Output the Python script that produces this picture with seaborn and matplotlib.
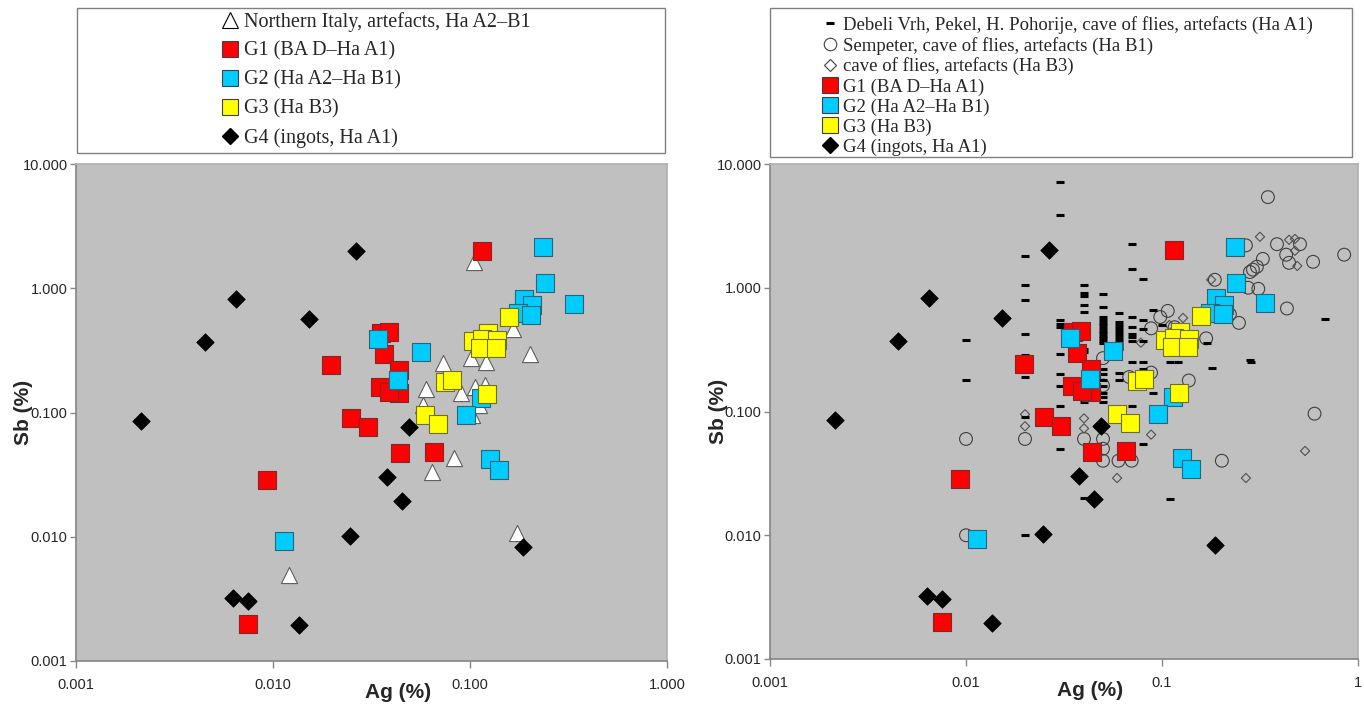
import matplotlib
matplotlib.use("Agg")
import seaborn as sns
from matplotlib import pyplot as plt
from matplotlib.lines import Line2D
from matplotlib.patches import Rectangle

# --- groups shown in both panels (Ag %, Sb %) ---
g1_ag = [0.115, 0.0093, 0.0075, 0.0198, 0.025, 0.0305, 0.044, 0.0655, 0.0352, 0.0386,
         0.0368, 0.0434, 0.0348, 0.0434, 0.039]
g1_sb = [2.0, 0.0287, 0.0020, 0.24, 0.0905, 0.0766, 0.0473, 0.048, 0.436, 0.445,
         0.296, 0.220, 0.161, 0.144, 0.147]

g2_ag = [0.235, 0.239, 0.336, 0.189, 0.207, 0.176, 0.205, 0.034, 0.0562, 0.043,
         0.114, 0.0955, 0.1265, 0.1406, 0.0114]
g2_sb = [2.15, 1.10, 0.75, 0.82, 0.73, 0.63, 0.61, 0.39, 0.308, 0.183,
         0.131, 0.0957, 0.0424, 0.0345, 0.0093]

g3_ag = [0.158, 0.1036, 0.1237, 0.115, 0.137, 0.112, 0.136, 0.0745, 0.081, 0.122, 0.0589, 0.0687]
g3_sb = [0.587, 0.377, 0.436, 0.39, 0.384, 0.331, 0.331, 0.176, 0.183, 0.141, 0.0957, 0.081]

g4_ag = [0.00215, 0.0045, 0.0065, 0.0153, 0.0265, 0.0378, 0.0489, 0.045, 0.0247,
         0.0063, 0.0075, 0.0136, 0.186]
g4_sb = [0.0855, 0.37, 0.82, 0.57, 2.0, 0.030, 0.0766, 0.0195, 0.0102,
         0.0032, 0.00305, 0.00195, 0.0083]

# --- left panel only ---
italy_ag = [0.1047, 0.166, 0.202, 0.0728, 0.101, 0.121, 0.0597, 0.090, 0.106, 0.119,
            0.111, 0.102, 0.058, 0.083, 0.064, 0.174, 0.0121]
italy_sb = [1.63, 0.47, 0.296, 0.25, 0.275, 0.255, 0.155, 0.144, 0.161, 0.167,
            0.115, 0.096, 0.115, 0.043, 0.033, 0.0107, 0.0049]

# --- right panel only ---
debeli_ag = ([0.01] * 2 + [0.02] * 8 + [0.03] * 10 + [0.04] * 9 + [0.05] * 20 + [0.06] * 13
             + [0.07] * 9 + [0.08] * 8 + [0.09] * 2 + [0.10, 0.11, 0.11, 0.11, 0.12, 0.17, 0.18,
                                                      0.28, 0.285, 0.68])
debeli_sb = ([0.38, 0.18]
             + [1.8, 1.06, 0.80, 0.42, 0.285, 0.19, 0.09, 0.010]
             + [7.2, 3.9, 0.55, 0.51, 0.48, 0.29, 0.20, 0.16, 0.11, 0.05]
             + [1.06, 0.90, 0.85, 0.73, 0.64, 0.32, 0.30, 0.12, 0.02]
             + [0.89, 0.70, 0.58, 0.55, 0.52, 0.50, 0.47, 0.45, 0.43, 0.41, 0.39, 0.37, 0.355,
                0.22, 0.20, 0.18, 0.16, 0.14, 0.13, 0.12]
             + [0.62, 0.53, 0.50, 0.47, 0.45, 0.42, 0.40, 0.38, 0.36, 0.34, 0.32, 0.205, 0.18]
             + [2.26, 1.42, 0.575, 0.48, 0.42, 0.40, 0.37, 0.25, 0.11]
             + [1.18, 0.55, 0.465, 0.37, 0.25, 0.22, 0.21, 0.055]
             + [0.665, 0.14]
             + [0.50, 0.25, 0.15, 0.0195, 0.25, 0.36, 0.225, 0.26, 0.25, 0.56])

sempeter_ag = [0.347, 0.268, 0.386, 0.43, 0.506, 0.445, 0.59, 0.85, 0.327, 0.305, 0.291, 0.281,
               0.31, 0.275, 0.186, 0.434, 0.247, 0.222, 0.107, 0.098, 0.088, 0.116, 0.168,
               0.137, 0.088, 0.068, 0.05, 0.05, 0.60, 0.01, 0.02, 0.04, 0.05, 0.05, 0.06, 0.07,
               0.202, 0.05, 0.01]
sempeter_sb = [5.4, 2.2, 2.25, 1.85, 2.25, 1.59, 1.62, 1.85, 1.71, 1.48, 1.40, 1.34,
               0.98, 1.0, 1.16, 0.68, 0.52, 0.61, 0.65, 0.58, 0.47, 0.48, 0.39,
               0.178, 0.206, 0.19, 0.162, 0.27, 0.096, 0.06, 0.06, 0.06, 0.06, 0.04, 0.04, 0.04,
               0.04, 0.05, 0.01]

flies_ag = [0.316, 0.445, 0.477, 0.477, 0.49, 0.178, 0.128, 0.109, 0.078, 0.02, 0.02,
            0.04, 0.04, 0.088, 0.537, 0.268, 0.059]
flies_sb = [2.58, 2.44, 2.48, 1.99, 1.50, 1.16, 0.57, 0.50, 0.36, 0.095, 0.076,
            0.088, 0.073, 0.065, 0.048, 0.029, 0.029]

ag_ticks = [0.001, 0.01, 0.1, 1]
ag_labels_left = ["0.001", "0.010", "0.100", "1.000"]
ag_labels_right = ["0.001", "0.01", "0.1", "1"]
sb_ticks = [0.001, 0.01, 0.1, 1, 10]
sb_labels = ["0.001", "0.010", "0.100", "1.000", "10.000"]

RED, CYAN, YELLOW = "#ff0000", "#00ccff", "#ffff00"

sns.set_theme(style="white")
plt.rcParams["font.family"] = ["Liberation Sans", "DejaVu Sans"]


def scatter(ax, ag, sb, **kw):
    sns.scatterplot(x=ag, y=sb, ax=ax, legend=False, **kw)


def draw_groups(ax):
    scatter(ax, g1_ag, g1_sb, marker="s", s=150, color=RED, edgecolor="#7a2a2a", linewidth=0.8, zorder=4)
    scatter(ax, g2_ag, g2_sb, marker="s", s=150, color=CYAN, edgecolor="#2f6272", linewidth=0.8, zorder=5)
    scatter(ax, g3_ag, g3_sb, marker="s", s=150, color=YELLOW, edgecolor="#6e6e2a", linewidth=0.8, zorder=6)
    scatter(ax, g4_ag, g4_sb, marker="D", s=80, color="black", edgecolor="black", linewidth=0.5, zorder=7)


def style_axes(ax, xlabels):
    ax.set_xscale("log")
    ax.set_yscale("log")
    ax.set_xlim(0.001, 1)
    ax.set_ylim(0.001, 10)
    ax.set_facecolor("#c0c0c0")
    ax.set_xticks(ag_ticks)
    ax.set_xticklabels(xlabels)
    ax.set_yticks(sb_ticks)
    ax.set_yticklabels(sb_labels)
    ax.minorticks_off()
    ax.tick_params(axis="x", direction="out", length=5, width=1, color="#888888",
                   labelsize=10.5, pad=7, bottom=True)
    ax.tick_params(axis="y", direction="out", length=4, width=1, color="#888888",
                   labelsize=10.5, pad=2, left=True)
    for side in ["left", "bottom"]:
        ax.spines[side].set_color("#888888")
    for side in ["top", "right"]:
        ax.spines[side].set_color("#b0b0b0")
    ax.set_xlabel("Ag (%)", fontsize=15, fontweight="bold")
    ax.set_ylabel("Sb (%)", fontsize=15, fontweight="bold")
    ax.xaxis.set_label_coords(0.545, -0.045)
    ax.yaxis.set_label_coords(-0.072, 0.5)


fig = plt.figure(figsize=(13.64, 7.04), dpi=100)
ax1 = fig.add_axes([76 / 1364, 1 - 661 / 704, 591 / 1364, 497 / 704])
ax2 = fig.add_axes([770 / 1364, 1 - 659 / 704, 588 / 1364, 495 / 704])

# left panel
scatter(ax1, italy_ag, italy_sb, marker="^", s=135, color="white", edgecolor="#606060", linewidth=0.8, zorder=3)
draw_groups(ax1)
style_axes(ax1, ag_labels_left)

# right panel
scatter(ax2, sempeter_ag, sempeter_sb, marker="o", s=85, color="#404040", facecolor="none",
        edgecolor="#404040", linewidth=0.8, zorder=2)
scatter(ax2, flies_ag, flies_sb, marker="D", s=22, color="#404040", facecolor="none",
        edgecolor="#505050", linewidth=0.8, zorder=2)
scatter(ax2, debeli_ag, debeli_sb, marker="_", s=30, color="black", linewidth=2.2, zorder=3)
draw_groups(ax2)
style_axes(ax2, ag_labels_right)

# legends in framed boxes above the plots
sq = dict(ls="none", marker="s", markersize=11, markeredgecolor="#404040", markeredgewidth=0.8)
group_handles = [
    Line2D([], [], markerfacecolor=RED, **sq),
    Line2D([], [], markerfacecolor=CYAN, **sq),
    Line2D([], [], markerfacecolor=YELLOW, **sq),
    Line2D([], [], ls="none", marker="D", markersize=8, color="black"),
]
group_labels = ["G1 (BA D\u2013Ha A1)", "G2 (Ha A2\u2013Ha B1)", "G3 (Ha B3)", "G4 (ingots, Ha A1)"]

fig.add_artist(Rectangle((77 / 1364, 1 - 153 / 704), 588 / 1364, 145 / 704, transform=fig.transFigure,
                         facecolor="none", edgecolor="#808080", linewidth=1))
fig.add_artist(Rectangle((770 / 1364, 1 - 157 / 704), 582 / 1364, 149 / 704, transform=fig.transFigure,
                         facecolor="none", edgecolor="#808080", linewidth=1))

left_handles = [Line2D([], [], ls="none", marker="^", markersize=12, markerfacecolor="white",
                       markeredgecolor="black", markeredgewidth=0.8)] + group_handles
left_labels = ["Northern Italy, artefacts, Ha A2\u2013B1"] + group_labels
fig.legend(left_handles, left_labels, loc="center", bbox_to_anchor=(376 / 1364, 1 - 80 / 704),
           frameon=False, prop={"family": "Liberation Serif", "size": 14.5},
           handlelength=0.8, handletextpad=0.3, labelspacing=0.48, borderpad=0)

right_handles = [
    Line2D([], [], ls="none", marker="_", markersize=6, markeredgewidth=2.2, color="black"),
    Line2D([], [], ls="none", marker="o", markersize=9, markerfacecolor="none",
           markeredgecolor="#404040", markeredgewidth=0.8),
    Line2D([], [], ls="none", marker="D", markersize=6, markerfacecolor="none",
           markeredgecolor="#404040", markeredgewidth=0.8),
] + group_handles
right_labels = [
    "Debeli Vrh, Pekel, H. Pohorije, cave of flies, artefacts (Ha A1)",
    "Sempeter, cave of flies, artefacts (Ha B1)",
    "cave of flies, artefacts (Ha B3)",
] + group_labels
fig.legend(right_handles, right_labels, loc="center", bbox_to_anchor=(1068 / 1364, 1 - 86 / 704),
           frameon=False, prop={"family": "Liberation Serif", "size": 13.5},
           handlelength=0.8, handletextpad=0.3, labelspacing=0.15, borderpad=0)

fig.savefig("out.png", dpi=100)
